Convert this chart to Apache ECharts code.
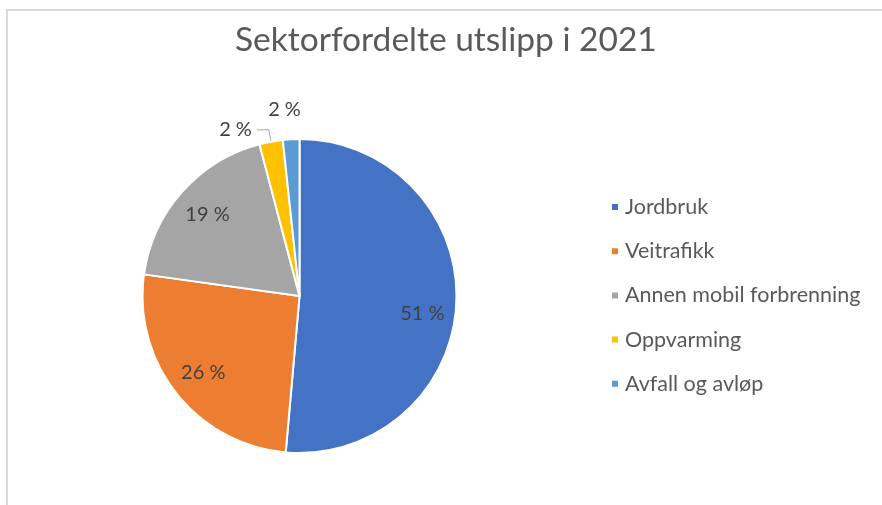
<!DOCTYPE html>
<html>
<head>
<meta charset="utf-8">
<script src="https://cdn.jsdelivr.net/npm/echarts@6/dist/echarts.min.js"></script>
<style>
html, body { margin: 0; padding: 0; background: #fff; }
#chart { width: 882px; height: 505px; }
</style>
</head>
<body>
<div id="chart"></div>
<script>
var categories = ['Jordbruk', 'Veitrafikk', 'Annen mobil forbrenning', 'Oppvarming', 'Avfall og avløp'];
var shares = [51.4, 25.8, 18.7, 2.4, 1.7];
var colors = ['#4472C4', '#ED7D31', '#A5A5A5', '#FFC000', '#5B9BD5'];

var font = 'Lato';
var textColor = '#595959';
var labelColor = '#404040';

var pieData = categories.map(function (name, i) {
    return { name: name, value: shares[i] };
});

var myChart = echarts.init(document.getElementById('chart'));
var option = {
    backgroundColor: '#fff',
    color: colors,
    textStyle: { fontFamily: font },
    title: {
        text: 'Sektorfordelte utslipp i 2021',
        left: 230,
        top: 18,
        textStyle: { fontFamily: font, fontSize: 33.5, fontWeight: 'normal', color: textColor }
    },
    graphic: [{
        type: 'rect',
        shape: { x: 7, y: 10, width: 1000, height: 1000 },
        style: { fill: 'none', stroke: '#d9d9d9', lineWidth: 2 },
        silent: true
    }],
    legend: {
        orient: 'vertical',
        left: 605,
        top: 191,
        icon: 'rect',
        itemWidth: 8,
        itemHeight: 8,
        itemGap: 22.2,
        textStyle: { fontFamily: font, fontSize: 21.5, color: textColor, lineHeight: 22, padding: [0, 0, 0, 1] },
        data: categories
    },
    series: [
        {
            // the pie itself, with outside labels for the small slices
            type: 'pie',
            center: [299.5, 296],
            radius: [0, 157],
            startAngle: 90,
            avoidLabelOverlap: false,
            itemStyle: { borderColor: '#fff', borderWidth: 2 },
            label: {
                position: 'outside',
                formatter: function (p) { return Math.round(p.value) + ' %'; },
                fontFamily: font,
                fontSize: 20,
                color: labelColor,
                distanceToLabelLine: 5
            },
            labelLine: {
                length: 12,
                length2: 12,
                lineStyle: { color: '#a6a6a6', width: 1 }
            },
            labelLayout: function (p) {
                return p.dataIndex === 4 ? { align: 'center' } : {};
            },
            emphasis: { disabled: true },
            data: pieData.map(function (d) {
                var small = d.value < 5;
                var last = d.name === categories[categories.length - 1];
                return {
                    name: d.name,
                    value: d.value,
                    label: { show: small },
                    labelLine: last ? { show: false, length: 30, length2: 0 } : { show: small }
                };
            })
        },
        {
            // transparent ring that carries the inside labels further out
            type: 'pie',
            center: [299.5, 296],
            radius: [83, 157],
            startAngle: 90,
            silent: true,
            legendHoverLink: false,
            itemStyle: { color: 'rgba(0,0,0,0)' },
            label: {
                position: 'inside',
                formatter: function (p) { return Math.round(p.value) + ' %'; },
                fontFamily: font,
                fontSize: 20,
                color: labelColor
            },
            labelLine: { show: false },
            labelLayout: function (p) {
                return p.dataIndex === 0 ? { dy: 12 } : {};
            },
            emphasis: { disabled: true },
            data: pieData.map(function (d) {
                return { name: d.name, value: d.value, label: { show: d.value >= 5 } };
            })
        }
    ]
};
myChart.setOption(option);
</script>
</body>
</html>
